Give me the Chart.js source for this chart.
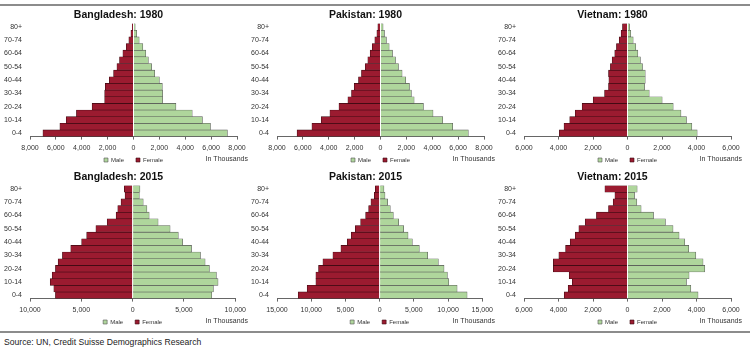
<!DOCTYPE html>
<html><head><meta charset="utf-8">
<script src="https://cdn.jsdelivr.net/npm/chart.js@4/dist/chart.umd.min.js"></script>
<style>
body{margin:0;width:750px;height:351px;background:#fff;position:relative;overflow:hidden;font-family:"Liberation Sans",Arial,sans-serif}
.p{position:absolute;width:250px;height:178px}
.rule{position:absolute;left:0;width:750px;height:2px;background:#8c8c8c}
#src{position:absolute;left:4px;top:337px;font-size:8.6px;color:#222;white-space:nowrap}
</style></head><body>
<div class="rule" style="top:4px"></div>
<div class="rule" style="top:331px"></div>
<div id="src">Source: UN, Credit Suisse Demographics Research</div>
<div class="p" style="left:0;top:6px"><canvas id="c0"></canvas></div>
<div class="p" style="left:247px;top:6px"><canvas id="c1"></canvas></div>
<div class="p" style="left:494px;top:6px"><canvas id="c2"></canvas></div>
<div class="p" style="left:0;top:168px"><canvas id="c3"></canvas></div>
<div class="p" style="left:247px;top:168px"><canvas id="c4"></canvas></div>
<div class="p" style="left:494px;top:168px"><canvas id="c5"></canvas></div>
<script>
// Age groups, youngest first
const ageGroups = ['0-4','5-9','10-14','15-19','20-24','25-29','30-34','35-39','40-44','45-49','50-54','55-59','60-64','65-69','70-74','75-79','80+'];
const seriesNames = ['Male','Female'];
const panelTitles = ['Bangladesh: 1980','Pakistan: 1980','Vietnam: 1980','Bangladesh: 2015','Pakistan: 2015','Vietnam: 2015'];
const axisMaxima = [8000, 8000, 6000, 10000, 15000, 6000];
const axisSteps  = [2000, 2000, 2000, 5000, 5000, 2000];

// Population in thousands
const bangladesh1980Male   = [7260,5950,5330,4540,3280,2250,2250,2230,2000,1640,1400,1150,950,720,440,250,130];
const bangladesh1980Female = [7000,5690,5200,4410,3200,2230,2230,2180,1870,1540,1280,1080,820,560,360,200,100];
const pakistan1980Male     = [6790,5580,4810,4060,3320,2600,2390,2240,1950,1670,1390,1160,930,670,460,310,200];
const pakistan1980Female   = [6450,5300,4580,3910,3210,2520,2240,2030,1700,1470,1180,980,800,640,440,280,205];
const vietnam1980Male      = [4040,3730,3420,3100,2650,2010,1260,990,1030,1030,870,750,600,480,330,190,120];
const vietnam1980Female    = [3950,3680,3350,3030,2630,1990,1330,1100,1080,1100,990,890,740,640,480,370,290];
const bangladesh2015Male   = [7710,7870,8320,8160,7480,7060,6610,5740,4870,4450,3650,2480,1610,1390,1030,650,710];
const bangladesh2015Female = [7520,7680,8030,7840,7520,7260,6840,6030,4970,4480,3580,2480,1610,1450,1130,740,810];
const pakistan2015Male     = [12780,11320,10100,9900,9410,8580,7020,5800,4780,4150,3510,2780,2000,1560,1170,780,630];
const pakistan2015Female   = [11900,10590,9320,9320,8930,8290,6830,5660,4730,4150,3560,2780,2050,1610,1270,780,630];
const vietnam2015Male      = [4090,3670,3420,3570,4480,4380,3960,3550,3320,2990,2640,2200,1510,790,540,410,560];
const vietnam2015Female    = [3670,3440,3200,3380,4300,4300,3980,3590,3320,3030,2820,2450,1800,1100,830,730,1310];

const maleSeries = [bangladesh1980Male, pakistan1980Male, vietnam1980Male, bangladesh2015Male, pakistan2015Male, vietnam2015Male];
const femaleSeries = [bangladesh1980Female, pakistan1980Female, vietnam1980Female, bangladesh2015Female, pakistan2015Female, vietnam2015Female];

Chart.defaults.font.family = '"Liberation Sans", Arial, sans-serif';
Chart.defaults.color = '#333';
Chart.defaults.animation = false;

const MALE_COLOR = '#afd69c';
const FEMALE_COLOR = '#9b1b30';
const LEGEND_PAD = 12;

// Pull the legend up so it sits just under the tick labels, and add the "In Thousands" note
const legendAndUnits = {
  id: 'legendAndUnits',
  afterLayout(chart) {
    const lg = chart.legend;
    if (lg) { lg.top -= 11; lg.bottom -= 11; }
  },
  afterDraw(chart) {
    const lg = chart.legend;
    const y = lg ? lg.top + LEGEND_PAD + 3 : chart.height - 24;
    const ctx = chart.ctx;
    ctx.save();
    ctx.font = '7px "Liberation Sans", Arial, sans-serif';
    ctx.fillStyle = '#333';
    ctx.textAlign = 'right';
    ctx.textBaseline = 'middle';
    ctx.fillText('In Thousands', chart.width - 2, y - 1);
    ctx.restore();
  }
};

for (let i = 0; i < 6; i++) {
  const max = axisMaxima[i];
  new Chart(document.getElementById('c' + i), {
    type: 'bar',
    data: {
      labels: ageGroups,
      datasets: [
        { label: seriesNames[0], data: maleSeries[i], backgroundColor: MALE_COLOR, borderColor: '#555', borderWidth: 0.6, barPercentage: 1, categoryPercentage: 1 },
        { label: seriesNames[1], data: femaleSeries[i].map(v => -v), backgroundColor: FEMALE_COLOR, borderColor: '#3a0a10', borderWidth: 0.6, barPercentage: 1, categoryPercentage: 1 }
      ]
    },
    options: {
      indexAxis: 'y',
      responsive: true,
      maintainAspectRatio: false,
      layout: { padding: { left: 0, right: 13, top: 0, bottom: 0 } },
      scales: {
        x: {
          stacked: true,
          min: -max, max: max,
          ticks: { stepSize: axisSteps[i], font: { size: 7 }, color: '#333', padding: 4, maxRotation: 0,
                   callback: v => Math.abs(v).toLocaleString('en-US') },
          grid: { display: true, drawOnChartArea: false, drawTicks: true, tickLength: 3, color: '#666' },
          border: { display: true, color: '#666', width: 1 }
        },
        y: {
          stacked: true,
          reverse: true,
          afterFit(scale) { scale.width = 30; },
          ticks: { autoSkip: false, font: { size: 7 }, color: '#333', padding: 8,
                   callback: function(v, idx) { return idx % 2 === 0 ? this.getLabelForValue(v) : ''; } },
          grid: { display: false, drawTicks: false },
          border: { display: false }
        }
      },
      plugins: {
        title: { display: true, text: panelTitles[i], font: { size: 10.5, weight: 'bold' }, color: '#111', padding: { top: 3, bottom: 2 } },
        legend: { position: 'bottom', fullSize: false,
                  labels: { boxWidth: 4, boxHeight: 4, font: { size: 6 }, color: '#333', padding: LEGEND_PAD } },
        tooltip: { enabled: false }
      }
    },
    plugins: [legendAndUnits]
  });
}
</script>
</body></html>
